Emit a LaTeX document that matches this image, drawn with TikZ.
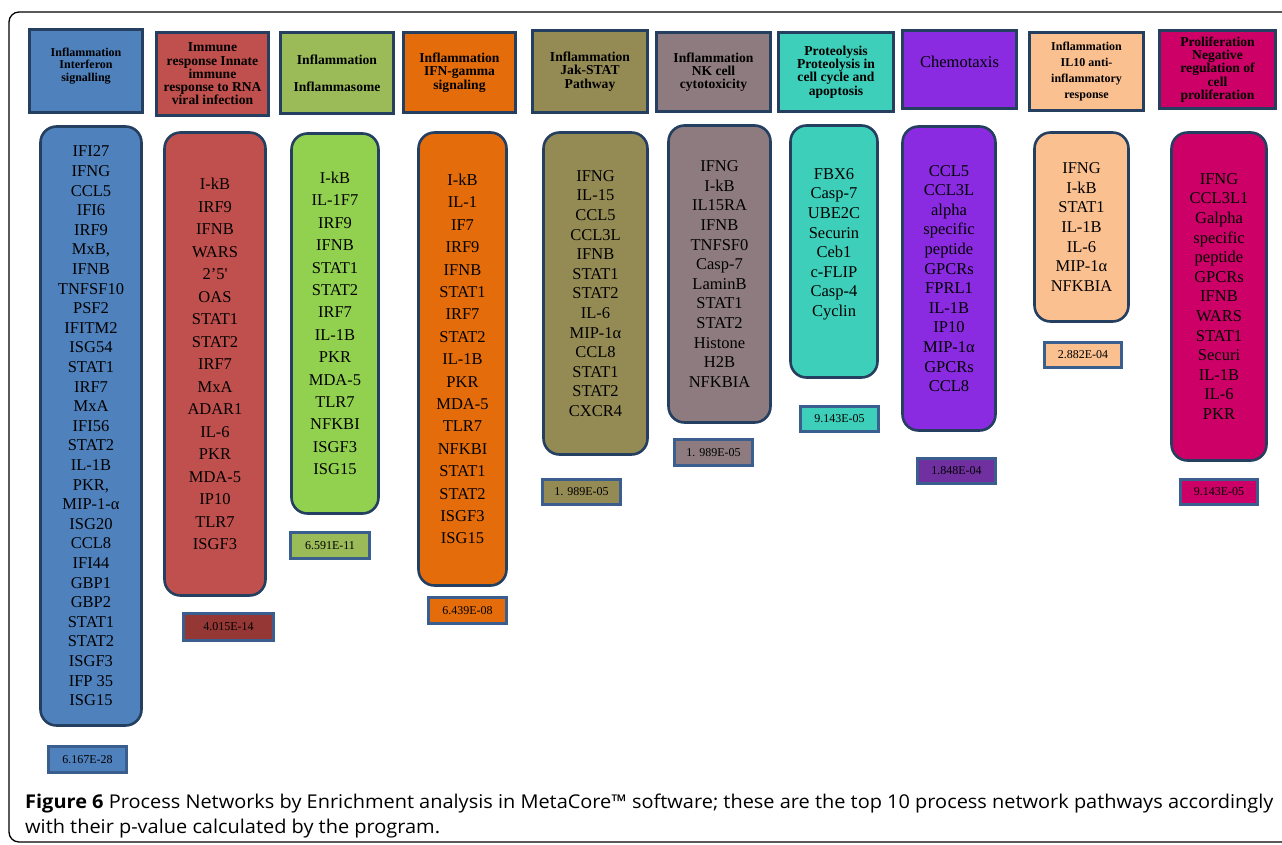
\documentclass[tikz,border=0pt]{standalone}
\usepackage{fontspec}
\setmainfont{Liberation Serif}
\newfontfamily\capfont[FakeStretch=1.05]{Open Sans}
\usepackage[dvipsnames,svgnames]{xcolor}
\usepackage{tikz}

\definecolor{cframe}{HTML}{243F60}
\definecolor{cpframe}{HTML}{3A5F8E}
\definecolor{cblue}{HTML}{4F81BD}
\definecolor{cred}{HTML}{C0504D}
\definecolor{credp}{HTML}{953735}
\definecolor{cgreenh}{HTML}{9BBB59}
\definecolor{cgreen}{HTML}{92D050}
\definecolor{corange}{HTML}{E46C0A}
\definecolor{colive}{HTML}{948A54}
\definecolor{cmauve}{HTML}{8D7B7F}
\definecolor{cteal}{HTML}{3ECFBA}
\definecolor{cviolet}{HTML}{8A2BE2}
\definecolor{cvioletp}{HTML}{7030A0}
\definecolor{cpeach}{HTML}{FAC090}
\definecolor{cmag}{HTML}{CC0066}

\begin{document}
\begin{tikzpicture}[x=1pt,y=-1pt,
  hdr/.style={draw=cframe,line width=3pt,inner sep=1pt,align=center,font=\rmfamily\bfseries\fontsize{13.6}{13.3}\selectfont},
  glist/.style={draw=cframe,line width=2.6pt,rounded corners=16pt,inner sep=1pt,align=center,font=\rmfamily\fontsize{16.5}{19.6}\selectfont},
  pv/.style={draw=cpframe,line width=2.6pt,inner sep=1pt,font=\rmfamily\fontsize{12}{13}\selectfont}]
  \useasboundingbox (0,0) rectangle (1282,844);
  \draw[line width=1.3pt,rounded corners=10pt] (1300,12) -- (9,12) -- (9,842) -- (1300,842);

  % headers
  \node[hdr,fill=cblue,minimum width=113pt,minimum height=83pt,font=\rmfamily\bfseries\fontsize{12}{12.5}\selectfont] (h1) at (86,71) {Inflammation\\Interferon\\signalling\\[0.5pt]};
  \node[hdr,fill=cred,minimum width=112pt,minimum height=83pt] (h2) at (212.5,74) {Immune\\response Innate\\immune\\response to RNA\\viral infection};
  \node[hdr,fill=cgreenh,minimum width=113pt,minimum height=81pt] (h3) at (337,73) {Inflammation\\[14pt]Inflammasome};
  \node[hdr,fill=corange,minimum width=112pt,minimum height=80pt] (h4) at (459.5,72.5) {Inflammation\\IFN-gamma\\signaling};
  \node[hdr,fill=colive,minimum width=115pt,minimum height=82pt] (h5) at (590,71.5) {Inflammation\\Jak-STAT\\Pathway};
  \node[hdr,fill=cmauve,minimum width=114pt,minimum height=79pt] (h6) at (713.5,72) {Inflammation\\NK cell\\cytotoxicity};
  \node[hdr,fill=cteal,minimum width=115pt,minimum height=79pt] (h7) at (836,72) {Proteolysis\\Proteolysis in\\cell cycle and\\apoptosis};
  \node[hdr,fill=cviolet,minimum width=114pt,minimum height=78pt,font=\rmfamily\fontsize{16.5}{18}\selectfont] (h8) at (959.5,69.5) {Chemotaxis\\[-3pt]};
  \node[hdr,fill=cpeach,minimum width=114pt,minimum height=78pt,font=\rmfamily\bfseries\fontsize{12}{16}\selectfont] (h9) at (1086.5,71.5) {Inflammation\\IL10 anti-\\inflammatory\\response};
  \node[hdr,fill=cmag,minimum width=116pt,minimum height=78pt] (h10) at (1217.5,69.5) {Proliferation\\Negative\\regulation of\\cell\\proliferation};

  % gene lists
  \node[glist,fill=cblue,minimum width=101pt,minimum height=599pt] (g1) at (91,426) {IFI27\\IFNG\\CCL5\\IFI6\\IRF9\\MxB,\\IFNB\\TNFSF10\\PSF2\\IFITM2\\ISG54\\STAT1\\IRF7\\MxA\\IFI56\\STAT2\\IL-1B\\PKR,\\MIP-1-α\\ISG20\\CCL8\\IFI44\\GBP1\\GBP2\\STAT1\\STAT2\\ISGF3\\IFP 35\\ISG15};
  \node[glist,fill=cred,minimum width=101pt,minimum height=463pt,font=\rmfamily\fontsize{16.5}{22.5}\selectfont] (g2) at (215,364) {I-kB\\IRF9\\IFNB\\WARS\\2’5\textquotesingle\\OAS\\STAT1\\STAT2\\IRF7\\MxA\\ADAR1\\IL-6\\PKR\\MDA-5\\IP10\\TLR7\\ISGF3};
  \node[glist,fill=cgreen,minimum width=87pt,minimum height=380pt,font=\rmfamily\fontsize{16.5}{22.4}\selectfont] (g3) at (335,323.5) {I-kB\\IL-1F7\\IRF9\\IFNB\\STAT1\\STAT2\\IRF7\\IL-1B\\PKR\\MDA-5\\TLR7\\NFKBI\\ISGF3\\ISG15};
  \node[glist,fill=corange,minimum width=88pt,minimum height=453pt,font=\rmfamily\fontsize{16.5}{22.4}\selectfont] (g4) at (462.5,359) {I-kB\\IL-1\\IF7\\IRF9\\IFNB\\STAT1\\IRF7\\STAT2\\IL-1B\\PKR\\MDA-5\\TLR7\\NFKBI\\STAT1\\STAT2\\ISGF3\\ISG15};
  \node[glist,fill=colive,minimum width=104pt,minimum height=322pt] (g5) at (595.5,293.5) {IFNG\\IL-15\\CCL5\\CCL3L\\IFNB\\STAT1\\STAT2\\IL-6\\MIP-1α\\CCL8\\STAT1\\STAT2\\CXCR4};
  \node[glist,fill=cmauve,minimum width=102pt,minimum height=297pt] (g6) at (719.5,274) {IFNG\\I-kB\\IL15RA\\IFNB\\TNFSF0\\Casp-7\\LaminB\\STAT1\\STAT2\\Histone\\H2B\\NFKBIA};
  \node[glist,fill=cteal,minimum width=87pt,minimum height=252pt] (g7) at (834,251.5) {FBX6\\Casp-7\\UBE2C\\Securin\\Ceb1\\c-FLIP\\Casp-4\\Cyclin\\[-1.4pt]};
  \node[glist,fill=cviolet,minimum width=93pt,minimum height=304pt] (g8) at (949,278.5) {CCL5\\CCL3L\\alpha\\specific\\peptide\\GPCRs\\FPRL1\\IL-1B\\IP10\\MIP-1α\\GPCRs\\CCL8};
  \node[glist,fill=cpeach,minimum width=94pt,minimum height=189pt] (g9) at (1081.5,227) {IFNG\\I-kB\\STAT1\\IL-1B\\IL-6\\MIP-1α\\NFKBIA};
  \node[glist,fill=cmag,minimum width=95pt,minimum height=328pt] (g10) at (1219,296.5) {IFNG\\CCL3L1\\Galpha\\specific\\peptide\\GPCRs\\IFNB\\WARS\\STAT1\\Securi\\IL-1B\\IL-6\\PKR};

  % p-values
  \node[pv,fill=cblue,minimum width=78pt,minimum height=26pt] (p1) at (87.5,759.5) {6.167E-28};
  \node[pv,fill=credp,minimum width=90pt,minimum height=27pt] (p2) at (228.5,627) {4.015E-14};
  \node[pv,fill=cgreenh,minimum width=79pt,minimum height=26pt] (p3) at (330,545.5) {6.591E-11};
  \node[pv,fill=corange,minimum width=78pt,minimum height=26pt] (p4) at (467.5,610.5) {6.439E-08};
  \node[pv,fill=colive,minimum width=78pt,minimum height=25pt] (p5) at (581.5,492) {1. 989E-05};
  \node[pv,fill=cmauve,minimum width=78pt,minimum height=26pt] (p6) at (713.5,452.5) {1. 989E-05};
  \node[pv,fill=cteal,minimum width=78pt,minimum height=25pt] (p7) at (839.5,419) {9.143E-05};
  \node[pv,fill=cvioletp,minimum width=78pt,minimum height=25pt] (p8) at (956.5,471) {1.848E-04};
  \node[pv,fill=cpeach,minimum width=77pt,minimum height=25pt] (p9) at (1083,355) {2.882E-04};
  \node[pv,fill=cmag,minimum width=77pt,minimum height=25pt] (p10) at (1219,492) {9.143E-05};

  % caption
  \node[anchor=north west,inner sep=0pt,align=left,font=\capfont\fontsize{19}{25}\selectfont] (cap) at (25,794) {\textbf{Figure 6} Process Networks by Enrichment analysis in MetaCore™ software; these are the top 10 process network pathways accordingly\\with their p-value calculated by the program.};
\end{tikzpicture}
\end{document}
